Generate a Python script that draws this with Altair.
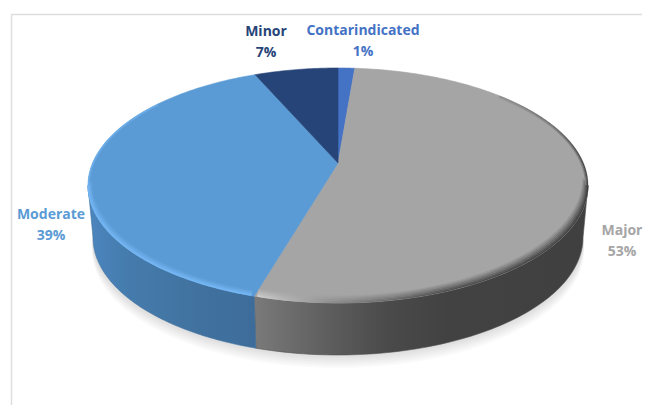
import math
import altair as alt
import pandas as pd

# --- values
categories = ["Contarindicated", "Major", "Moderate", "Minor"]
shares = [1.3, 53.2, 39.0, 6.5]
percent_labels = ["1%", "53%", "39%", "7%"]
top_colors = ["#4472C4", "#A5A5A5", "#5B9BD5", "#264478"]
label_colors = ["#4472C4", "#A5A5A5", "#5B9BD5", "#264478"]
label_x = [363, 622, 51, 266]
label_y = [31, 231, 215, 32]
line_gap = 20.5

# --- projection of the tilted disc (image pixel coordinates)
CX, APEX_Y = 338.0, 163.0
UP, DOWN, HALF_W = 95.0, 140.0, 250.0
DEPTH = 52.0
K = (DOWN - UP) / (DOWN + UP)
B = UP * (1 + K)
A = HALF_W * math.sqrt(1 - K * K)
T_EXT = math.degrees(math.acos(-K))  # angle where the rim is widest


def rim(t_deg):
    t = math.radians(t_deg)
    w = 1 + K * math.cos(t)
    return CX + A * math.sin(t) / w, APEX_Y - B * math.cos(t) / w


def arc(t0, t1, n=90):
    return [rim(t0 + (t1 - t0) * i / n) for i in range(n + 1)]


def lower(p, extra=0.0):
    return CX + (p[0] - CX) * 0.98, p[1] + DEPTH + extra


def frame(points, name="a"):
    return pd.DataFrame(
        {"x": [p[0] for p in points], "y": [p[1] for p in points],
         "i": list(range(len(points))), "s": name}
    )


W, H = 634, 397
X = alt.X("x:Q", scale=alt.Scale(domain=[8, 8 + W], nice=False, zero=False), axis=None)
Y = alt.Y("y:Q", scale=alt.Scale(domain=[8 + H, 8], nice=False, zero=False), axis=None)


def poly(points, fill, opacity=1.0, edge=None):
    kw = {"fill": fill, "opacity": opacity, "interpolate": "linear-closed"}
    kw["stroke"] = edge if edge else "transparent"
    kw["strokeWidth"] = 0.6 if edge else 0
    return alt.Chart(frame(points)).mark_line(**kw).encode(x=X, y=Y, order="i:Q")


def stroke_line(points, stroke, width, opacity=1.0):
    return alt.Chart(frame(points)).mark_line(
        stroke=stroke, strokeWidth=width, opacity=opacity, strokeCap="butt"
    ).encode(x=X, y=Y, order="i:Q")


def grad(stops):
    return alt.Gradient(
        gradient="linear", x1=0, x2=1, y1=0, y2=0,
        stops=[alt.GradientStop(offset=o, color=c) for o, c in stops],
    )


def mix(c1, c2, f):
    a = [int(c1[i:i + 2], 16) for i in (1, 3, 5)]
    b = [int(c2[i:i + 2], 16) for i in (1, 3, 5)]
    return "#" + "".join(f"{round(u + (v - u) * f):02x}" for u, v in zip(a, b))


total = sum(shares)
edges = [0.0]
for s in shares:
    edges.append(edges[-1] + s / total * 360)

layers = []

# soft shadow under the disc
ring = [lower(rim(360 * i / 180)) for i in range(180)]
for off in (13, 11, 9, 7, 5, 3):
    pts = [(CX + (p[0] - CX) * 1.004, p[1] + off) for p in ring]
    layers.append(poly(pts, "#000000", 0.018))

# side walls (only Major and Moderate face the viewer)
maj_end = edges[2]
left_ext = 360 - T_EXT
maj_arc = arc(T_EXT, maj_end)
mod_arc = arc(maj_end, left_ext)
layers.append(poly(
    maj_arc + [lower(p) for p in reversed(maj_arc)],
    grad([(0, "#7a7a7a"), (0.22, "#5e5e5e"), (0.40, "#4a4a4a"),
          (0.58, "#424242"), (1, "#404040")]),
    edge="#505050",
))
layers.append(poly(
    mod_arc + [lower(p) for p in reversed(mod_arc)],
    grad([(0, "#4B86BE"), (0.25, "#457BAC"), (0.65, "#41729F"), (1, "#3D6C9B")]),
    edge="#41729F",
))

# top surface wedges
for c, t0, t1 in zip(top_colors, edges[:-1], edges[1:]):
    n = max(6, int((t1 - t0) * 1.2))
    layers.append(poly([(CX, APEX_Y)] + arc(t0, t1, n), c, edge=c))


def inset(points, d):
    return [(CX + (x - CX) * (1 - 0.7 * d / HALF_W), y - d) for x, y in points]


def inset_top(points, d):
    return [(CX + (x - CX) * (1 - d / HALF_W), APEX_Y + (y - APEX_Y) * (1 - d / 95)) for x, y in points]


# bevel on the lower rim, drawn from inside to outside
for d in (7.0, 5.7, 4.4, 3.1, 1.8, 0.6):
    f = 1 - d / 8.0
    base = "#A5A5A5"
    layers.append(stroke_line(
        inset(arc(T_EXT, maj_end - 0.6), d),
        grad([(0, mix(base, "#d0d0d0", f)), (0.22, mix(base, "#8c8c8c", f)),
              (0.55, mix(base, "#4c4c4c", f)), (1, mix(base, "#383838", f))]),
        1.6,
    ))
    blue = "#5B9BD5"
    layers.append(stroke_line(
        inset(arc(maj_end + 0.6, left_ext), d * 0.7),
        mix(blue, "#76B8F5", f),
        1.4,
    ))

# thin light edge on the upper left of the Moderate wedge
for d, f in ((1.5, 0.35), (0.5, 0.7)):
    layers.append(stroke_line(inset_top(arc(left_ext, 305), d), mix("#5B9BD5", "#76B8F5", f), 1.1))

# dark edge on the upper right of the Major wedge
for d, f in ((2.5, 0.3), (1.5, 0.55), (0.5, 0.85)):
    layers.append(stroke_line(
        inset_top(arc(48, T_EXT), d),
        grad([(0, mix("#A5A5A5", "#8a8a8a", f)), (0.6, mix("#A5A5A5", "#666666", f)),
              (1, mix("#A5A5A5", "#303030", f))]),
        1.1,
    ))

# panel frame
frame_df = pd.DataFrame({"x": [8 + W, 11.5, 11.5], "y": [14.5, 14.5, 8 + H], "i": [0, 1, 2]})
layers.append(alt.Chart(frame_df).mark_line(stroke="#DEDEDE", strokeWidth=1.5).encode(x=X, y=Y, order="i:Q"))

# labels
label_df = pd.DataFrame({
    "x": label_x + label_x,
    "y": label_y + [v + line_gap for v in label_y],
    "text": categories + percent_labels,
    "color": label_colors + label_colors,
})
layers.append(alt.Chart(label_df).mark_text(
    font="Open Sans", fontSize=14, fontWeight=700, align="center", baseline="middle"
).encode(x=X, y=Y, text="text:N", color=alt.Color("color:N", scale=None)))

chart = alt.layer(*layers).properties(width=W, height=H, padding=0, background="white").configure_view(stroke=None)
chart.save("out.html", embed_options={"renderer": "svg", "actions": False})
